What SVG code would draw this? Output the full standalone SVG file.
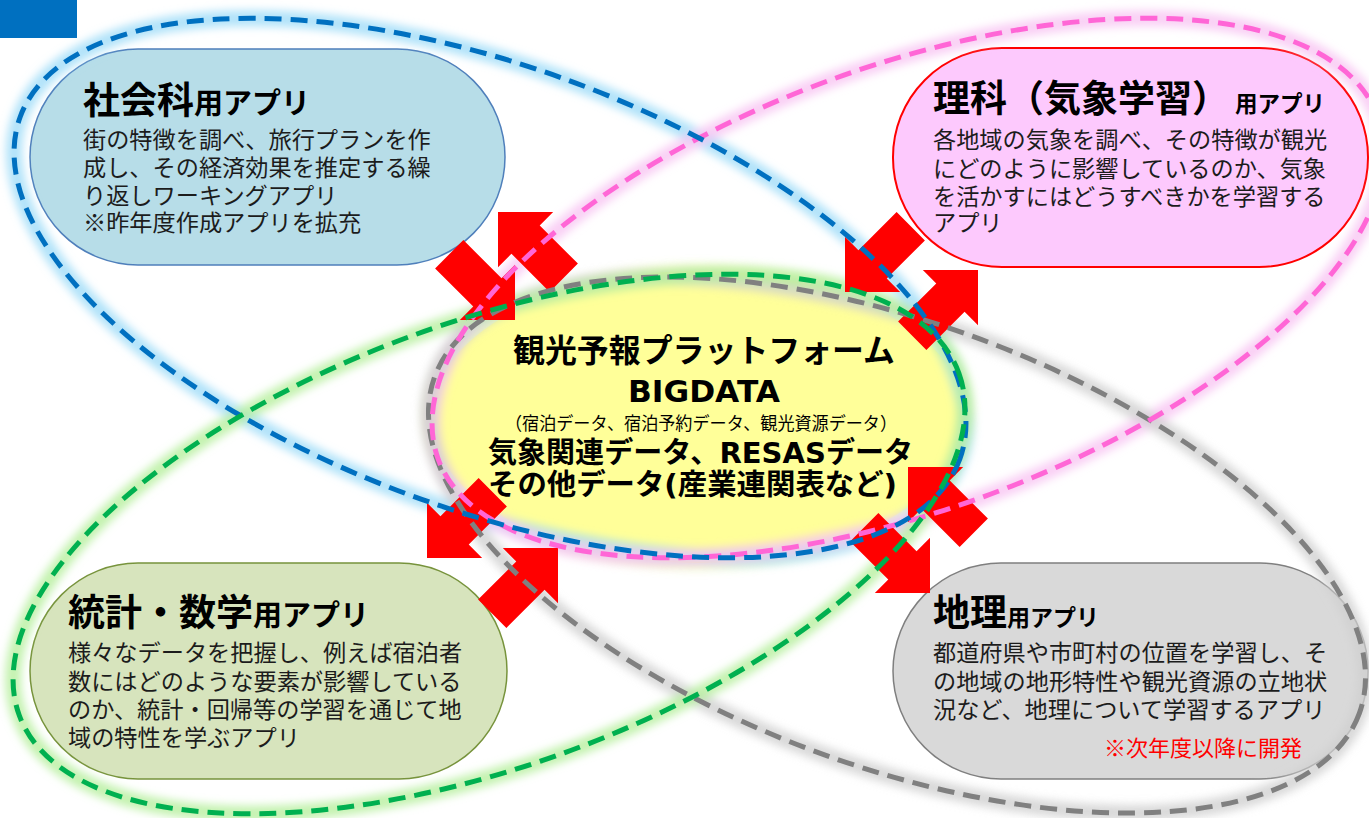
<svg xmlns="http://www.w3.org/2000/svg" width="1369" height="818" viewBox="0 0 1369 818">
<defs>
<style>
.jp{font-family:"Noto Sans CJK JP","Noto Sans CJK SC",sans-serif;}
.lat{font-family:"DejaVu Sans","Noto Sans CJK JP",sans-serif;}
.b{font-weight:700;fill:#000;}
.body{font-size:23.2px;fill:#1c1c1c;}
.arrow{fill:#ff0000;}
.glow{fill:none;stroke-width:16;opacity:0.8;}
.dash{fill:none;stroke-width:5;stroke-dasharray:17 9;}
</style>
<filter id="blur" x="-10%" y="-10%" width="120%" height="120%"><feGaussianBlur stdDeviation="4"/></filter>
<filter id="blur2" x="-20%" y="-20%" width="140%" height="140%"><feGaussianBlur stdDeviation="6"/></filter>
<path id="arr" d="M0,0 L-39,-39 L-39,-20 L-93,-20 L-93,20 L-39,20 L-39,39 Z"/>
</defs>
<rect width="1369" height="818" fill="#ffffff"/>
<rect x="0" y="0" width="77" height="38" fill="#0070c0"/>

<g id="node-shakai">
<rect x="30" y="49" width="475" height="216" rx="108" fill="#b7dde8" stroke="#4f7fbb" stroke-width="1.5"/>
<text class="jp b" x="83" y="114"><tspan font-size="37">社会科</tspan><tspan font-size="29">用アプリ</tspan></text>
<text class="jp body" x="83" y="148">街の特徴を調べ、旅行プランを作</text>
<text class="jp body" x="83" y="176">成し、その経済効果を推定する繰</text>
<text class="jp body" x="83" y="204">り返しワーキングアプリ</text>
<text class="jp body" x="83" y="231">※昨年度作成アプリを拡充</text>
</g>

<g id="node-rika">
<rect x="893" y="48" width="475" height="219" rx="109" fill="#fdc9fd" stroke="#ff0000" stroke-width="2"/>
<text class="jp b" x="933" y="112"><tspan font-size="37">理科（気象学習）</tspan><tspan font-size="22.5" dx="6">用アプリ</tspan></text>
<text class="jp body" x="933" y="148">各地域の気象を調べ、その特徴が観光</text>
<text class="jp body" x="933" y="177">にどのように影響しているのか、気象</text>
<text class="jp body" x="933" y="205">を活かすにはどうすべきかを学習する</text>
<text class="jp body" x="933" y="231">アプリ</text>
</g>

<g id="node-toukei">
<rect x="30" y="563" width="477" height="216" rx="108" fill="#d7e4bd" stroke="#77933c" stroke-width="1.5"/>
<text class="jp b" x="68" y="626"><tspan font-size="37">統計・数学</tspan><tspan font-size="29">用アプリ</tspan></text>
<text class="jp body" x="68" y="661">様々なデータを把握し、例えば宿泊者</text>
<text class="jp body" x="68" y="690">数にはどのような要素が影響している</text>
<text class="jp body" x="68" y="718">のか、統計・回帰等の学習を通じて地</text>
<text class="jp body" x="68" y="746">域の特性を学ぶアプリ</text>
</g>

<g id="node-chiri">
<rect x="893" y="563" width="475" height="216" rx="108" fill="#d9d9d9" stroke="#7f7f7f" stroke-width="1.5"/>
<text class="jp b" x="933" y="626"><tspan font-size="37">地理</tspan><tspan font-size="23">用アプリ</tspan></text>
<text class="jp body" x="933" y="661">都道府県や市町村の位置を学習し、そ</text>
<text class="jp body" x="933" y="690">の地域の地形特性や観光資源の立地状</text>
<text class="jp body" x="933" y="718">況など、地理について学習するアプリ</text>
<text class="jp" x="1104" y="756" font-size="22" fill="#ff0000">※次年度以降に開発</text>
</g>

<g id="node-center">
<ellipse cx="698" cy="417" rx="272" ry="150" fill="#e6f59a" opacity="0.8" filter="url(#blur2)"/>
<ellipse cx="698" cy="417" rx="267" ry="146" fill="#ffff99"/>
</g>

<g id="loop-glows" filter="url(#blur)">
<ellipse class="glow" cx="490" cy="288" rx="500" ry="222" transform="rotate(20 490 288)" stroke="#9fdcf7"/>
<ellipse class="glow" cx="908" cy="288" rx="500" ry="222" transform="rotate(-20 908 288)" stroke="#f7c4f2"/>
<ellipse class="glow" cx="897" cy="545" rx="492" ry="222" transform="rotate(20 897 545)" stroke="#cfcfcf"/>
<ellipse class="glow" cx="489" cy="544" rx="500" ry="222" transform="rotate(-20 489 544)" stroke="#b5ef9c"/>
</g>

<g id="connectors">
<use href="#arr" class="arrow" transform="translate(498,212) rotate(-135)"/>
<use href="#arr" class="arrow" transform="translate(515,320) rotate(45)"/>
<use href="#arr" class="arrow" transform="translate(845,292) rotate(135)"/>
<use href="#arr" class="arrow" transform="translate(978,270) rotate(-45)"/>
<use href="#arr" class="arrow" transform="translate(427,558) rotate(135)"/>
<use href="#arr" class="arrow" transform="translate(558,548) rotate(-45)"/>
<use href="#arr" class="arrow" transform="translate(908,467) rotate(-135)"/>
<use href="#arr" class="arrow" transform="translate(930,593) rotate(45)"/>
</g>

<g id="loops">
<ellipse class="dash" cx="897" cy="545" rx="492" ry="222" transform="rotate(20 897 545)" stroke="#808080"/>
<ellipse class="dash" cx="908" cy="288" rx="500" ry="222" transform="rotate(-20 908 288)" stroke="#ff66d6"/>
<ellipse class="dash" cx="490" cy="288" rx="500" ry="222" transform="rotate(20 490 288)" stroke="#0070c0"/>
<ellipse class="dash" cx="489" cy="544" rx="500" ry="222" transform="rotate(-20 489 544)" stroke="#00b050"/>
</g>

<g id="center-text">
<text class="jp b" x="704" y="362" font-size="31.7" text-anchor="middle" textLength="382" lengthAdjust="spacingAndGlyphs">観光予報プラットフォーム</text>
<text class="lat b" x="704" y="402" font-size="31" text-anchor="middle" textLength="152" lengthAdjust="spacingAndGlyphs">BIGDATA</text>
<text class="jp" x="505" y="430" font-size="18" fill="#000" textLength="392" lengthAdjust="spacingAndGlyphs">（宿泊データ、宿泊予約データ、観光資源データ）</text>
<text class="lat b" x="488" y="463" font-size="29" textLength="425" lengthAdjust="spacingAndGlyphs">気象関連データ、RESASデータ</text>
<text class="lat b" x="488" y="495" font-size="29" textLength="409" lengthAdjust="spacingAndGlyphs">その他データ(産業連関表など)</text>
</g>
</svg>
